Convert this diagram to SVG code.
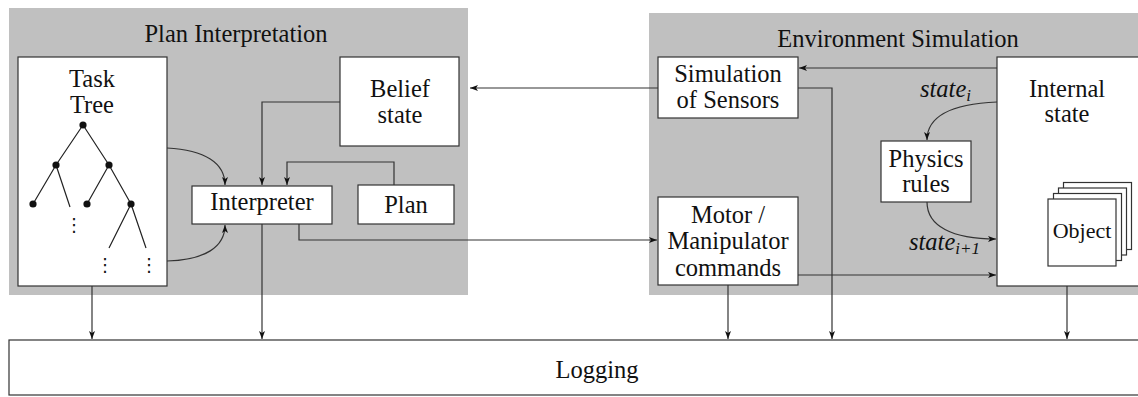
<svg xmlns="http://www.w3.org/2000/svg" width="1138" height="397" viewBox="0 0 1138 397">
<defs>
<style>
.panel{fill:#c0c0c0;stroke:none}
.box{fill:#fff;stroke:#333;stroke-width:1.2}
.t{font-family:"Liberation Serif","Times New Roman",serif;font-size:24.5px;fill:#111;text-anchor:middle}
.it{font-family:"Liberation Serif","Times New Roman",serif;font-style:italic;font-size:24.5px;fill:#111}
.sub{font-size:17px}
.c{fill:none;stroke:#333;stroke-width:1.2}
.tree{stroke:#222;stroke-width:1.2;fill:none}
.dot{fill:#111}
.vd{font-family:"DejaVu Sans",sans-serif;font-size:18px;fill:#111;text-anchor:middle}
</style>
<marker id="ah" markerUnits="userSpaceOnUse" markerWidth="10" markerHeight="8" refX="8" refY="3" orient="auto">
<path d="M0,0 L8,3 L0,6 L2,3 z" fill="#111"/>
</marker>
</defs>

<g id="panel-plan">
<rect class="panel" x="9" y="8" width="459" height="287"/>
<text class="t" x="236" y="42">Plan Interpretation</text>
</g>
<g id="panel-env">
<rect class="panel" x="649" y="13" width="495" height="282"/>
<text class="t" x="898" y="47">Environment Simulation</text>
</g>

<g id="task-tree">
<rect class="box" x="18" y="57" width="149" height="229"/>
<text class="t" x="92" y="87">Task</text>
<text class="t" x="92" y="113">Tree</text>
<path class="tree" d="M83,125 L56,165 M83,125 L109,165 M56,165 L33,204 M56,165 L70,207 M109,165 L87,204 M109,165 L131,204 M131,204 L109,248 M131,204 L146,248"/>
<circle class="dot" cx="83" cy="125" r="3.6"/>
<circle class="dot" cx="56" cy="165" r="3.6"/>
<circle class="dot" cx="109" cy="165" r="3.6"/>
<circle class="dot" cx="33" cy="204" r="3.6"/>
<circle class="dot" cx="87" cy="204" r="3.6"/>
<circle class="dot" cx="131" cy="204" r="3.6"/>
<text class="vd" x="74" y="231">⋮</text>
<text class="vd" x="105" y="271">⋮</text>
<text class="vd" x="149" y="271">⋮</text>
</g>

<g id="interpreter">
<rect class="box" x="192" y="186" width="140" height="38"/>
<text class="t" x="262" y="210">Interpreter</text>
</g>

<g id="belief-state">
<rect class="box" x="340" y="57" width="119" height="89"/>
<text class="t" x="400" y="97">Belief</text>
<text class="t" x="400" y="123">state</text>
</g>

<g id="plan">
<rect class="box" x="358" y="185" width="96" height="39"/>
<text class="t" x="406" y="213">Plan</text>
</g>

<g id="sim-sensors">
<rect class="box" x="658" y="57" width="140" height="61"/>
<text class="t" x="728" y="82">Simulation</text>
<text class="t" x="728" y="108">of Sensors</text>
</g>

<g id="motor">
<rect class="box" x="658" y="197" width="140" height="88"/>
<text class="t" x="728" y="223">Motor /</text>
<text class="t" x="728" y="249">Manipulator</text>
<text class="t" x="728" y="276">commands</text>
</g>

<g id="physics">
<rect class="box" x="881" y="141" width="90" height="61"/>
<text class="t" x="926" y="167">Physics</text>
<text class="t" x="926" y="192">rules</text>
</g>

<g id="internal-state">
<rect class="box" x="997" y="57" width="150" height="229"/>
<text class="t" x="1067" y="97">Internal</text>
<text class="t" x="1067" y="122">state</text>
<rect class="box" x="1063.5" y="182.5" width="68" height="67"/>
<rect class="box" x="1058.5" y="188" width="68" height="67"/>
<rect class="box" x="1053.5" y="193.5" width="68" height="67"/>
<rect class="box" x="1048" y="199" width="68" height="67"/>
<text class="t" x="1082" y="238" style="font-size:22px">Object</text>
</g>

<g id="logging">
<rect class="box" x="9" y="340" width="1150" height="55"/>
<text class="t" x="597" y="378">Logging</text>
</g>

<g id="connectors">
<path class="c" d="M340,102 H262 V185" marker-end="url(#ah)"/>
<path class="c" d="M394,185 V162 H287 V185" marker-end="url(#ah)"/>
<path class="c" d="M167,148 C205,150 225,163 225,185" marker-end="url(#ah)"/>
<path class="c" d="M167,261 C205,260 225,247 225,225" marker-end="url(#ah)"/>
<path class="c" d="M299,224 V240 H657" marker-end="url(#ah)"/>
<path class="c" d="M658,88 H470" marker-end="url(#ah)"/>
<path class="c" d="M997,68 H799" marker-end="url(#ah)"/>
<path class="c" d="M798,88 H832 V339" marker-end="url(#ah)"/>
<path class="c" d="M798,275 H996" marker-end="url(#ah)"/>
<path class="c" d="M997,102 C950,104 927,117 927,140" marker-end="url(#ah)"/>
<path class="c" d="M927,202 C927,226 952,239 996,239" marker-end="url(#ah)"/>
<path class="c" d="M92,286 V339" marker-end="url(#ah)"/>
<path class="c" d="M262,224 V339" marker-end="url(#ah)"/>
<path class="c" d="M728,285 V339" marker-end="url(#ah)"/>
<path class="c" d="M1067,286 V339" marker-end="url(#ah)"/>
<text class="it" x="920" y="97">state<tspan class="sub" dy="4">i</tspan></text>
<text class="it" x="909" y="250">state<tspan class="sub" dy="4">i+1</tspan></text>
</g>
</svg>
